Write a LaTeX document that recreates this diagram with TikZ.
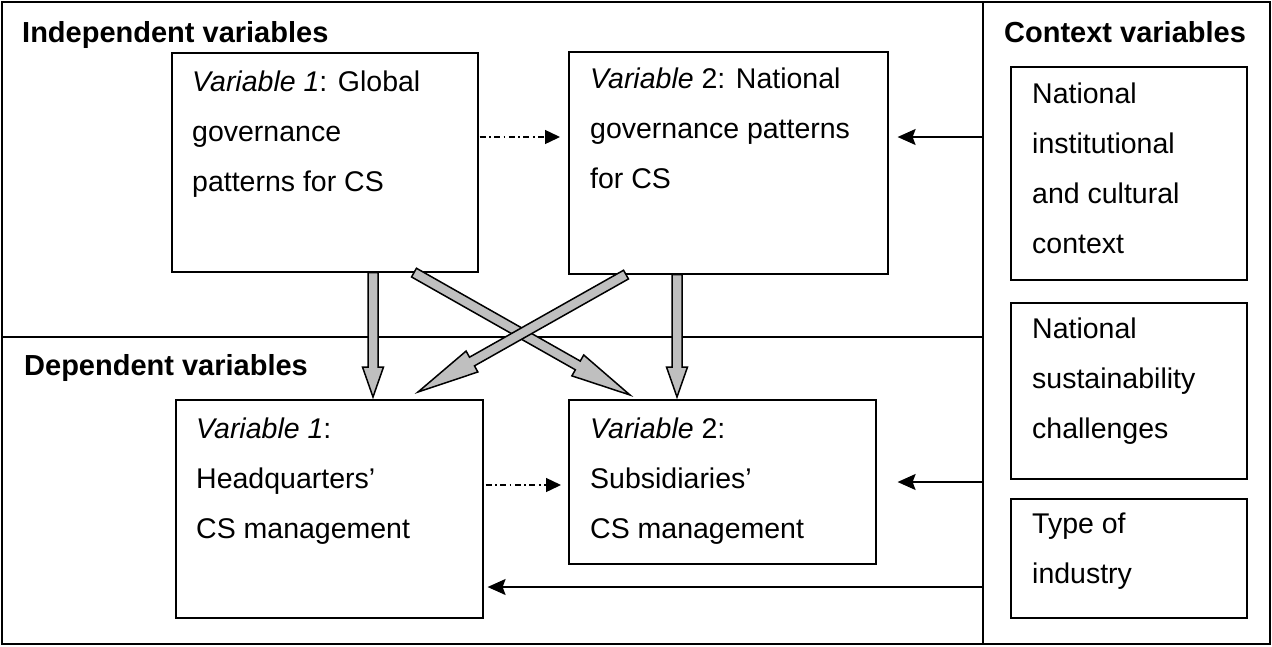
\documentclass[tikz,border=0pt]{standalone}
\usepackage{fontspec}
\setmainfont{Liberation Sans}
\usetikzlibrary{arrows.meta,calc}

\tikzset{
 frame/.style={line width=1.6pt},
 box/.style={draw, line width=1.6pt, inner sep=0pt, anchor=north west},
 txt/.style={anchor=north west, inner sep=0pt, align=left, font=\fontsize{28.5}{50}\selectfont},
 title/.style={anchor=base west, inner sep=0pt, font=\fontsize{29}{34}\selectfont\bfseries},
 dd/.style={line width=1.4pt, dash pattern=on 6pt off 3.5pt on 1.6pt off 3.5pt, -{Triangle[length=15pt,width=14pt]}},
 ctx/.style={line width=1.6pt, -{Stealth[length=18pt,width=16pt,inset=3pt]}},
 blk/.style={draw, line width=1.5pt, fill=black!25, line join=miter},
}

\newcommand\blockarrow[5]{%
  \path coordinate (bas) at (#1) coordinate (bae) at (#2);
  \path coordinate (bah) at ($(bae)!#5!(bas)$);
  \draw[blk] ($(bas)!#3!90:(bae)$) -- ($(bah)!#3!90:(bae)$) -- ($(bah)!#4!90:(bae)$)
     -- (bae) -- ($(bah)!#4!-90:(bae)$) -- ($(bah)!#3!-90:(bae)$) -- ($(bas)!#3!-90:(bae)$) -- cycle;
}

\begin{document}
\begin{tikzpicture}[x=1pt,y=-1pt]
\useasboundingbox (0,0) rectangle (1272,646);
\fill[white] (0,0) rectangle (1272,646);

% frames
\draw[frame] (2,2) rectangle (1270,644);
\draw[frame] (983,2) -- (983,644);
\draw[frame] (2,337) -- (983,337);

% titles
\node[title] (tInd) at (22,42) {Independent variables};
\node[title] (tCtx) at (1004,42) {Context variables};
\node[title] (tDep) at (24,375) {Dependent variables};

% boxes
\node[box, minimum width=306pt, minimum height=219pt] (G) at (171,52) {};
\node[box, minimum width=319pt, minimum height=222pt] (N) at (568,51) {};
\node[box, minimum width=307pt, minimum height=218pt] (HQ) at (175,399) {};
\node[box, minimum width=307pt, minimum height=164pt] (SUB) at (568,399) {};
\node[box, minimum width=236pt, minimum height=213pt] (C1) at (1010,66) {};
\node[box, minimum width=236pt, minimum height=176pt] (C2) at (1010,302) {};
\node[box, minimum width=236pt, minimum height=119pt] (C3) at (1010,498) {};

% texts
\node[txt] (tG) at (192,69) {\rule{0pt}{22pt}\textit{Variable 1}: Global\\governance\\patterns for CS};
\node[txt] (tN) at (590,66) {\rule{0pt}{22pt}\textit{Variable} 2: National\\governance patterns\\for CS};
\node[txt] (tHQ) at (196,416) {\rule{0pt}{22pt}\textit{Variable 1}:\\Headquarters’\\CS management};
\node[txt] (tSUB) at (590,416) {\rule{0pt}{22pt}\textit{Variable} 2:\\Subsidiaries’\\CS management};
\node[txt] (tC1) at (1032,81) {\rule{0pt}{22pt}National\\institutional\\and cultural\\context};
\node[txt] (tC2) at (1032,316) {\rule{0pt}{22pt}National\\sustainability\\challenges};
\node[txt] (tC3) at (1032,511) {\rule{0pt}{22pt}Type of\\industry};

% block arrows
\blockarrow{$(G.south west)+(202,0)$}{$(HQ.north west)+(198,-2)$}{5pt}{10.5pt}{30pt}
\blockarrow{$(N.south west)+(109,0)$}{$(SUB.north west)+(109,-2)$}{5pt}{10.5pt}{30pt}
\blockarrow{$(G.south west)+(243,0)$}{$(SUB.north west)+(62,-4)$}{5pt}{12pt}{60pt}
\blockarrow{$(N.south west)+(58,0)$}{$(HQ.north west)+(243,-7)$}{5pt}{12pt}{62pt}

% dash-dot arrows
\draw[dd] ($(G.north east)+(1,85)$) -- ($(N.north west)+(-8,86)$);
\draw[dd] ($(HQ.north east)+(2,86)$) -- ($(SUB.north west)+(-7,86)$);

% context arrows
\coordinate (d1) at (983,137);
\coordinate (d2) at (983,482);
\coordinate (d3) at (983,587);
\draw[ctx] (d1) -- ($(N.north east)+(9,86)$);
\draw[ctx] (d2) -- ($(SUB.north east)+(21,83)$);
\draw[ctx] (d3) -- ($(HQ.north east)+(4,188)$);
\end{tikzpicture}
\end{document}
